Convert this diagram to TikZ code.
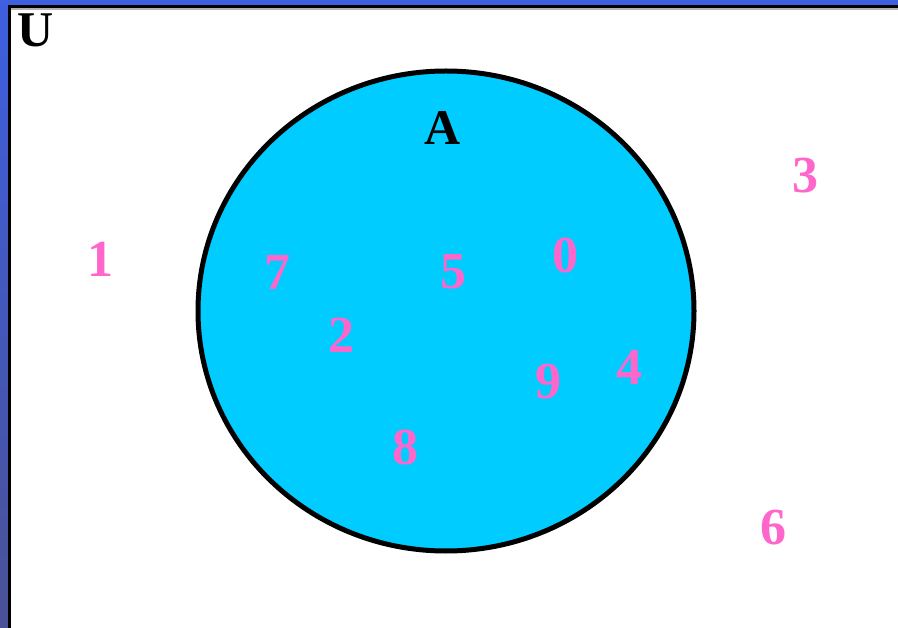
\documentclass[tikz,border=0pt]{standalone}
\usepackage{fontspec}
\setmainfont{Liberation Serif}
\usetikzlibrary{shapes.geometric}
\definecolor{frameblue}{HTML}{3D5FE0}
\definecolor{framebot}{HTML}{4A5196}
\definecolor{setfill}{HTML}{00CCFF}
\definecolor{numpink}{HTML}{FF66CC}
\begin{document}
\begin{tikzpicture}[x=1pt,y=-1pt,
  num/.style={text=numpink,font=\fontsize{52}{52}\selectfont\bfseries,inner sep=0pt},
  lbl/.style={text=black,font=\fontsize{50}{50}\selectfont\bfseries,inner sep=0pt}]
\useasboundingbox (0,0) rectangle (898,628);
\shade[top color=frameblue,bottom color=framebot] (0,0) rectangle (898,628);
\fill[black] (8,5) rectangle (898,628);
\fill[gray!60] (11,8) rectangle (898,10);
\fill[white] (11,10) rectangle (898,628);
\node[draw=black,line width=5pt,fill=setfill,ellipse,minimum width=496pt,minimum height=480pt,inner sep=0pt] (A) at (446,311) {};
\node[lbl] (lA) at (443,128) {A};
\node[lbl,anchor=north west] (lU) at (17,14) {U};
\node[num] (n1) at (100,259) {1};
\node[num] (n7) at (277,272) {7};
\node[num] (n5) at (453,272) {5};
\node[num] (n0) at (565,255) {0};
\node[num] (n2) at (341,335) {2};
\node[num] (n9) at (548,382) {9};
\node[num] (n4) at (629,367) {4};
\node[num] (n8) at (405,447) {8};
\node[num] (n3) at (805,176) {3};
\node[num] (n6) at (773,528) {6};
\end{tikzpicture}
\end{document}
